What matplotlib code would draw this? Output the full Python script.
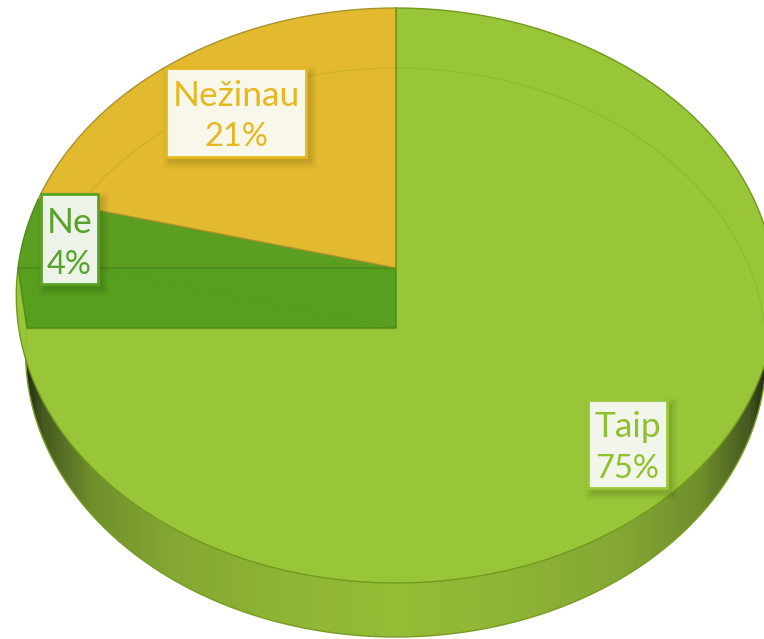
import numpy as np
import matplotlib
matplotlib.use("Agg")
import matplotlib.pyplot as plt
from matplotlib.colors import LinearSegmentedColormap
from matplotlib.patches import Polygon, Rectangle

# data
names = ["Taip", "Ne", "Nežinau"]
values = [75, 4, 21]
face_colors = ["#98c638", "#5c9e1f", "#e3ba2f"]
rim_colors = ["#6f9a1e", "#4d8a18", "#a8932c"]
label_colors = ["#8fc030", "#57a32a", "#e5b81f"]
box_edges = ["#98c83a", "#58a326", "#e5b81f"]
box_fills = ["#f2f6ea", "#eef3e9", "#f9f6ea"]
# label box: left, top, right, bottom (pixels)
label_boxes = [(588, 400, 667, 488), (41, 194, 98, 284), (166, 68, 306, 157)]

# perspective of top and bottom face: x half width, centre y, y scale, depth term
TOP = (378.0, 268.0, -259.2, 0.09565)
BOTTOM = (369.0, 328.0, -254.1, 0.0861)
CX = 396.0


def project(t, face):
    # t in degrees, clockwise from 12 o'clock, r = 1 on the rim
    a, c, b, d = face
    x_u = np.sin(np.radians(t))
    y_u = np.cos(np.radians(t))
    w = 1 + d * y_u
    return CX + a * x_u / w, (c + b * y_u) / w


def wedge_points(t0, t1, face):
    t = np.linspace(t0, t1, 200)
    x, y = project(t, face)
    a, c, b, d = face
    return np.vstack([[CX, c], np.column_stack([x, y]), [CX, c]])


fig = plt.figure(figsize=(7.64, 6.39), dpi=100)
ax = fig.add_axes([0, 0, 1, 1])
plt.rcParams["font.family"] = ["Lato", "DejaVu Sans"]

bounds = np.concatenate([[0], np.cumsum(values)]) * 3.6

# side wall with horizontal shading
wall_cmap = LinearSegmentedColormap.from_list(
    "wall",
    [(0.0, "#1f2610"), (0.025, "#46581f"), (0.09, "#6f8f2c"), (0.2, "#84a833"),
     (0.35, "#8fb535"), (0.5, "#95bd35"), (0.65, "#8fb535"), (0.8, "#84a833"),
     (0.91, "#6f8f2c"), (0.975, "#46581f"), (1.0, "#1f2610")],
)
tt = np.linspace(0, 360, 500)
bx, by = project(tt, BOTTOM)
wall = Polygon(np.column_stack([bx, by]), closed=True, facecolor="none", edgecolor="none")
ax.add_patch(wall)
img = ax.imshow(np.linspace(0, 1, 400).reshape(1, -1), cmap=wall_cmap, aspect="auto",
                extent=(22, 770, 640, 60), zorder=1)
img.set_clip_path(wall)
ax.plot(bx, by, color="#7ea328", lw=1.0, zorder=1.5)

# Taip top face
ax.add_patch(Polygon(wedge_points(bounds[0], bounds[1], TOP), closed=True, facecolor=face_colors[0],
                     edgecolor=rim_colors[0], lw=1.0, zorder=2))

# Ne: cut wall and top face
tx, ty = project(bounds[1], TOP)
qx, qy = project(bounds[1], BOTTOM)
cut = [[CX, TOP[1]], [tx, ty], [qx, qy], [CX, BOTTOM[1]]]
ax.add_patch(Polygon(cut, closed=True, facecolor="#57a01e", edgecolor=rim_colors[1], lw=1.0, zorder=3))
ax.add_patch(Polygon(wedge_points(bounds[1], bounds[2], TOP), closed=True, facecolor=face_colors[1],
                     edgecolor=rim_colors[1], lw=1.0, zorder=3))

# Nežinau top face
ax.add_patch(Polygon(wedge_points(bounds[2], bounds[3], TOP), closed=True, facecolor=face_colors[2],
                     edgecolor=rim_colors[2], lw=1.0, zorder=3))
ax.plot([CX, CX], [TOP[1], project(0, TOP)[1]], color="#6f9a1e", lw=1.2, zorder=3.2)

# bottom face seen faintly through the top
ax.plot(bx, by, color="#5c7a10", lw=1.0, alpha=0.14, zorder=3.5)
for b in bounds[1:3]:
    px, py = project(b, BOTTOM)
    ax.plot([CX, px], [BOTTOM[1], py], color="#5c7a10", lw=1.0, alpha=0.14, zorder=3.5)

# labels
for name, v, lc, be, bf, box in zip(names, values, label_colors, box_edges, box_fills, label_boxes):
    x0, y0, x1, y1 = box
    for grow, al in [(7, 0.025), (5, 0.03), (3, 0.04), (1, 0.05)]:
        ax.add_patch(Rectangle((x0 + 4 - grow, y0 + 5 - grow), x1 - x0 + 2 * grow, y1 - y0 + 2 * grow,
                               facecolor="#000000", edgecolor="none", alpha=al, zorder=4))
    ax.add_patch(Rectangle((x0, y0), x1 - x0, y1 - y0, facecolor=bf, edgecolor=be, lw=2, zorder=5))
    xm = (x0 + x1) / 2
    ax.text(xm, y1 - 51, name, color=lc, fontsize=25.5, ha="center", va="baseline",
            family=["Lato", "DejaVu Sans"], zorder=6)
    ax.text(xm, y1 - 10.5, f"{v}%", color=lc, fontsize=23.5, ha="center", va="baseline",
            family=["Lato", "DejaVu Sans"], zorder=6)

ax.set_xlim(0, 764)
ax.set_ylim(639, 0)
ax.axis("off")
fig.savefig("out.png", dpi=100, facecolor="white")
